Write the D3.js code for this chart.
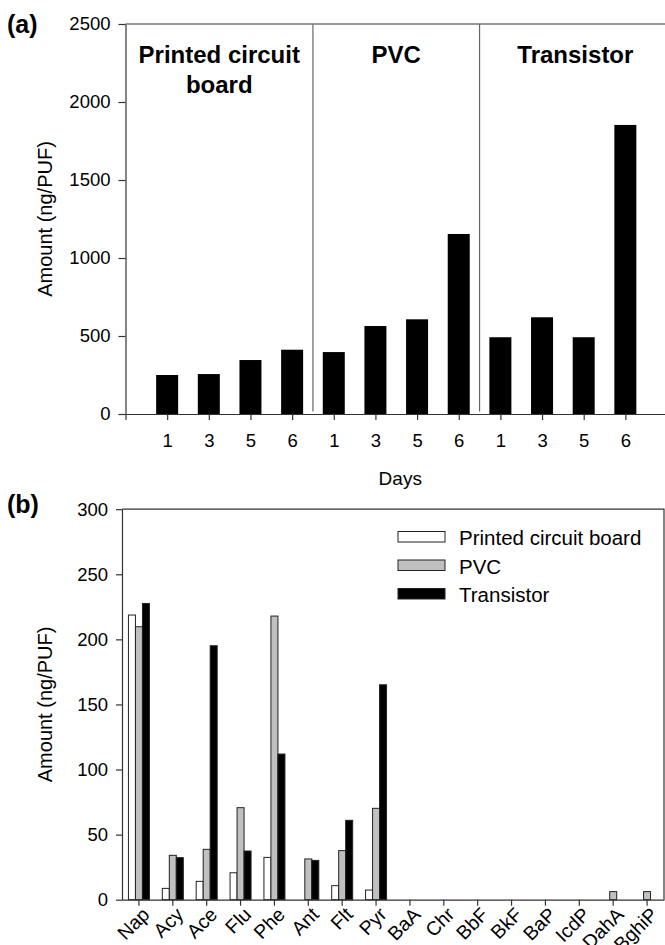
<!DOCTYPE html>
<html lang="en">
<head>
    <meta charset="utf-8">
    <title>PAH amounts</title>
    <style>
    html, body {
        margin: 0;
        background-color: white;
    }

    svg {
        background-color: white;
        font-family: 'Liberation Sans', Arial, sans-serif;
    }

    .axis path, .axis line {
        stroke: #333;
        stroke-width: 1.2px;
    }

    .axis text {
        fill: black;
        font-size: 18.5px;
    }

    .frame {
        fill: none;
        stroke: #333;
        stroke-width: 1.2px;
    }
    </style>
</head>
<body>
    <div id="vis"></div>

    <script src="https://d3js.org/d3.v7.min.js"></script>
    <script>
// panel (a): total amounts per source and sampling day
var dayLabels = ['1', '3', '5', '6', '1', '3', '5', '6', '1', '3', '5', '6'];
var sources = ['Printed circuit board', 'PVC', 'Transistor'];
var totals = [250, 256, 346, 412, 397, 564, 607, 1154, 492, 620, 492, 1853];
var yTicksA = [0, 500, 1000, 1500, 2000, 2500];

// panel (b): amount of each PAH per source
var compounds = ['Nap', 'Acy', 'Ace', 'Flu', 'Phe', 'Ant', 'Flt', 'Pyr',
    'BaA', 'Chr', 'BbF', 'BkF', 'BaP', 'IcdP', 'DahA', 'BghiP'];
var pcb = [218.7, 8.7, 14.1, 20.7, 32.5, 0, 10.8, 7.4, 0, 0, 0, 0, 0, 0, 0, 0];
var pvc = [209.7, 34.1, 38.7, 70.7, 217.9, 31.3, 37.7, 70.2, 0, 0, 0, 0, 0, 0, 6.2, 6.2];
var transistor = [227.6, 32.3, 195.1, 37.4, 111.9, 30.2, 61, 165.1, 0, 0, 0, 0, 0, 0, 0, 0];
var yTicksB = [0, 50, 100, 150, 200, 250, 300];

var seriesColors = ['white', '#c0c0c0', 'black'];

var width = 665;
var height = 945;

var svg = d3.select('#vis')
    .append('svg')
    .attr('width', width)
    .attr('height', height);

// ---------- panel (a) ----------
var xA = d3.scaleLinear()
    .domain([0, 13])
    .range([125.5, 667]);

var yA = d3.scaleLinear()
    .domain([0, 2500])
    .range([414, 24]);

var gA = svg.append('g');

gA.append('path')
    .attr('class', 'frame')
    .attr('d', 'M' + xA(0) + ',' + yA(2500) + 'H' + xA(13) + 'V' + yA(0));

// dividers between the three sources
gA.selectAll('.divider')
    .data([4.5, 8.5])
    .enter()
    .append('line')
    .attr('class', 'divider')
    .attr('x1', function(d) { return xA(d); })
    .attr('x2', function(d) { return xA(d); })
    .attr('y1', yA(2500))
    .attr('y2', yA(0) - 2.5)
    .attr('stroke', '#666')
    .attr('stroke-width', 1.2);

gA.selectAll('.bar')
    .data(totals)
    .enter()
    .append('rect')
    .attr('class', 'bar')
    .attr('x', function(d, i) { return xA(i + 1) - 11; })
    .attr('width', 22)
    .attr('y', function(d) { return yA(d); })
    .attr('height', function(d) { return yA(0) - yA(d); })
    .attr('fill', 'black');

gA.append('g')
    .attr('class', 'x axis')
    .attr('transform', 'translate(0,' + yA(0) + ')')
    .call(d3.axisBottom(xA)
        .tickValues(d3.range(0, 13))
        .tickSize(6)
        .tickSizeOuter(0)
        .tickPadding(14)
        .tickFormat(function(d) { return d === 0 ? '' : dayLabels[d - 1]; }));

gA.append('g')
    .attr('class', 'y axis')
    .attr('transform', 'translate(' + xA(0) + ',0)')
    .call(d3.axisLeft(yA)
        .tickValues(yTicksA)
        .tickSize(7)
        .tickSizeOuter(0)
        .tickPadding(8)
        .tickFormat(d3.format('d')));

gA.selectAll('.source')
    .data(sources)
    .enter()
    .append('text')
    .attr('class', 'source')
    .attr('x', function(d, i) { return xA([2.25, 6.5, 10.8][i]); })
    .attr('y', 63)
    .attr('text-anchor', 'middle')
    .style('font-size', '24px')
    .style('font-weight', 'bold')
    .each(function(d) {
        var parts = d === 'Printed circuit board' ? ['Printed circuit', 'board'] : [d];
        var t = d3.select(this);
        parts.forEach(function(p, k) {
            t.append('tspan')
                .attr('x', t.attr('x'))
                .attr('dy', k === 0 ? 0 : 29.5)
                .text(p);
        });
    });

gA.append('text')
    .attr('x', (xA(0) + xA(13)) / 2 + 4)
    .attr('y', 485)
    .attr('text-anchor', 'middle')
    .style('font-size', '19px')
    .text('Days');

gA.append('text')
    .attr('transform', 'translate(52,' + (yA(0) + yA(2500)) / 2 + ') rotate(-90)')
    .attr('text-anchor', 'middle')
    .style('font-size', '20px')
    .text('Amount (ng/PUF)');

svg.append('text')
    .attr('x', 7)
    .attr('y', 33)
    .style('font-size', '25px')
    .style('font-weight', 'bold')
    .text('(a)');

// ---------- panel (b) ----------
var xB = d3.scaleBand()
    .domain(compounds)
    .range([122, 664]);

var xInner = d3.scaleBand()
    .domain(sources)
    .range([-10.5, 10.5]);

var yB = d3.scaleLinear()
    .domain([0, 300])
    .range([899.7, 509.2]);

var gB = svg.append('g');

gB.append('path')
    .attr('class', 'frame')
    .attr('d', 'M' + xB.range()[0] + ',' + yB(300) + 'H' + xB.range()[1] + 'V' + yB(0));

var seriesB = [pcb, pvc, transistor];

var rows = [];
compounds.forEach(function(c, i) {
    seriesB.forEach(function(s, k) {
        if (s[i] > 0) {
            rows.push({ compound: c, source: sources[k], value: s[i], color: seriesColors[k] });
        }
    });
});

gB.selectAll('.bar')
    .data(rows)
    .enter()
    .append('rect')
    .attr('class', 'bar')
    .attr('x', function(d) { return xB(d.compound) + xB.bandwidth() / 2 + xInner(d.source); })
    .attr('width', xInner.bandwidth())
    .attr('y', function(d) { return yB(d.value); })
    .attr('height', function(d) { return yB(0) - yB(d.value); })
    .attr('fill', function(d) { return d.color; })
    .attr('stroke', '#222')
    .attr('stroke-width', 1);

gB.append('g')
    .attr('class', 'x axis')
    .attr('transform', 'translate(0,' + yB(0) + ')')
    .call(d3.axisBottom(xB)
        .tickSize(6)
        .tickSizeOuter(0))
    .selectAll('text')
    .style('font-size', '19.5px')
    .attr('transform', 'rotate(-45)')
    .attr('text-anchor', 'end')
    .attr('x', -3)
    .attr('y', 8)
    .attr('dy', '0.6em');

gB.append('g')
    .attr('class', 'y axis')
    .attr('transform', 'translate(' + xB.range()[0] + ',0)')
    .call(d3.axisLeft(yB)
        .tickValues(yTicksB)
        .tickSize(6)
        .tickSizeOuter(0)
        .tickPadding(8));

gB.append('text')
    .attr('transform', 'translate(52,' + (yB(0) + yB(300)) / 2 + ') rotate(-90)')
    .attr('text-anchor', 'middle')
    .style('font-size', '20px')
    .text('Amount (ng/PUF)');

svg.append('text')
    .attr('x', 7)
    .attr('y', 513)
    .style('font-size', '25px')
    .style('font-weight', 'bold')
    .text('(b)');

// legend
var legend = gB.selectAll('.legend')
    .data(sources)
    .enter()
    .append('g')
    .attr('class', 'legend')
    .attr('transform', function(d, i) { return 'translate(398,' + (531.5 + i * 28.5) + ')'; });

legend.append('rect')
    .attr('width', 47)
    .attr('height', 10.5)
    .attr('fill', function(d, i) { return seriesColors[i]; })
    .attr('stroke', '#222')
    .attr('stroke-width', 1);

legend.append('text')
    .attr('x', 61)
    .attr('y', 13.5)
    .style('font-size', '20.5px')
    .text(function(d) { return d; });
    </script>
</body>
</html>
